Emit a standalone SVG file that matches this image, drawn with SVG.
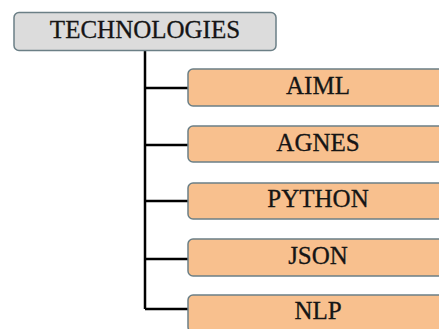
<svg xmlns="http://www.w3.org/2000/svg" width="439" height="329" viewBox="0 0 439 329">
<style>
text{font-family:'Liberation Serif','Times New Roman','DejaVu Serif',serif;font-size:25px;fill:#151515;stroke:#151515;stroke-width:0.3;text-anchor:middle}
.box{fill:#f8c08e;stroke:#6b7f86;stroke-width:1.5}
.root{fill:#dcdcdc;stroke:#6b7f86;stroke-width:1.5}
.c{stroke:#000;stroke-width:2.5;fill:none}
</style>
<rect width="439" height="329" fill="#fff"/>
<g id="connectors">
<path class="c" d="M145 50V309M145 88H188M145 145H188M145 201H188M145 259H188M145 309H188"/>
</g>
<g id="technologies">
<rect class="root" x="14" y="12.5" width="262" height="38" rx="5"/>
<text x="145" y="38">TECHNOLOGIES</text>
</g>
<g id="aiml">
<rect class="box" x="188" y="69" width="262" height="37" rx="5"/>
<text x="318" y="94">AIML</text>
</g>
<g id="agnes">
<rect class="box" x="188" y="126" width="262" height="36" rx="5"/>
<text x="318" y="151">AGNES</text>
</g>
<g id="python">
<rect class="box" x="188" y="183" width="262" height="36" rx="5"/>
<text x="318" y="207">PYTHON</text>
</g>
<g id="json">
<rect class="box" x="188" y="239" width="262" height="37" rx="5"/>
<text x="318" y="264">JSON</text>
</g>
<g id="nlp">
<rect class="box" x="188" y="295" width="262" height="37" rx="5"/>
<text x="318" y="319">NLP</text>
</g>
</svg>
